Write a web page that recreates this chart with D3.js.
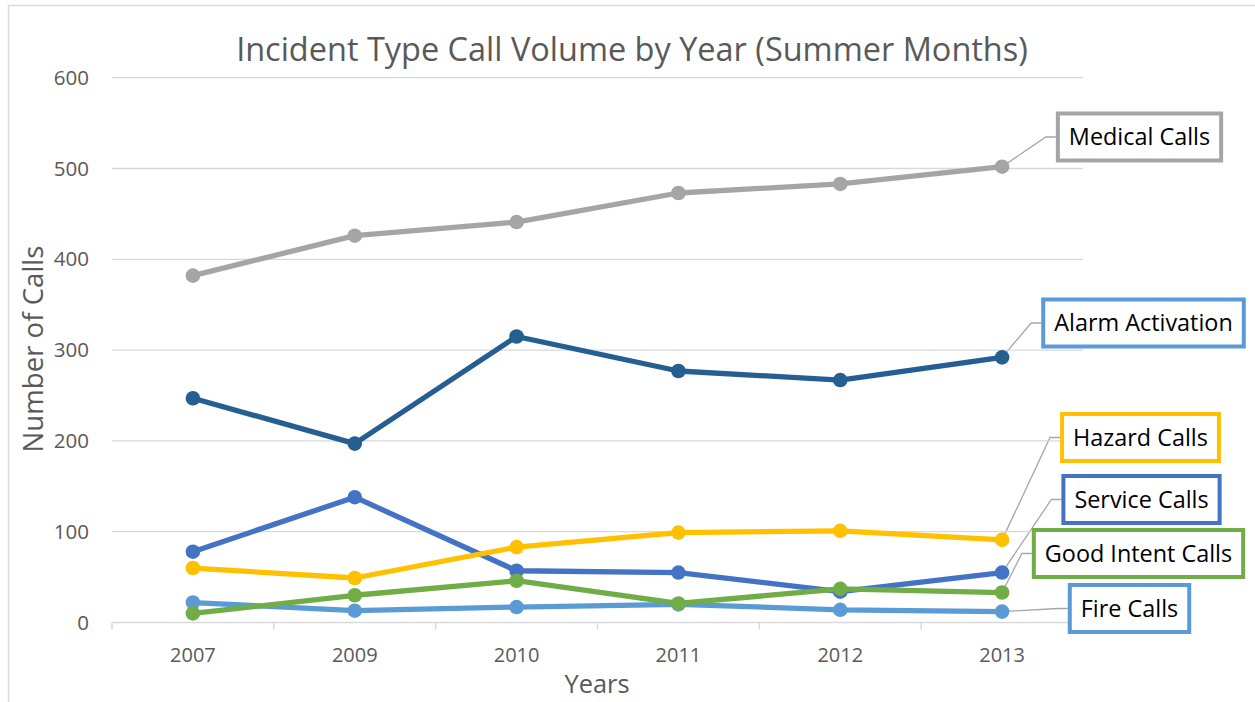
<!DOCTYPE html>
<html><head><meta charset="utf-8">
<script src="https://cdn.jsdelivr.net/npm/d3@7"></script>
<style>html,body{margin:0;padding:0;background:#fff;}svg{display:block;}</style>
</head><body>
<svg id="c" width="1255" height="702"></svg>
<script>
const years = ["2007","2009","2010","2011","2012","2013"];
const yTicks = [0,100,200,300,400,500,600];
const medical = [382,426,441,473,483,502];
const alarm = [247,197,315,277,267,292];
const hazard = [60,49,83,99,101,91];
const service = [78,138,57,55,34,55];
const goodIntent = [10,30,46,21,37,33];
const fire = [22,13,17,20,14,12];
const seriesNames = ["Medical Calls","Alarm Activation","Service Calls","Hazard Calls","Fire Calls","Good Intent Calls"];
const seriesValues = [medical, alarm, service, hazard, fire, goodIntent];

const colors = {"Medical Calls":"#A5A5A5","Alarm Activation":"#255E91","Service Calls":"#4472C4","Hazard Calls":"#FFC000","Fire Calls":"#5B9BD5","Good Intent Calls":"#70AD47"};
const boxBorder = {"Medical Calls":"#A5A5A5","Alarm Activation":"#5B9BD5","Service Calls":"#4472C4","Hazard Calls":"#FFC000","Fire Calls":"#5B9BD5","Good Intent Calls":"#70AD47"};
// label box layout (center positions)
const boxLayout = {"Medical Calls":[1139.5,137],"Alarm Activation":[1143.5,323],"Hazard Calls":[1140.5,437.5],"Service Calls":[1141.5,499.5],"Good Intent Calls":[1138.5,553.5],"Fire Calls":[1129.5,608.5]};

const svg = d3.select("#c");
const font = "'Open Sans', sans-serif";
svg.append("rect").attr("width",1255).attr("height",702).attr("fill","#fff");
svg.append("rect").attr("x",8.5).attr("y",5.5).attr("width",1300).attr("height",800)
  .attr("fill","none").attr("stroke","#D9D9D9").attr("stroke-width",1.5);

const L=112,R=1083,T=77.7,B=622.5;
const x = d3.scaleBand().domain(years).range([L,R]);
const y = d3.scaleLinear().domain([0,600]).range([B,T]);

function fit(sel, w){
  const n = sel.node(); const fs = parseFloat(sel.attr("font-size"));
  const cw = n.getComputedTextLength(); sel.attr("font-size", fs*w/cw);
}

// gridlines
svg.append("g").selectAll("line").data(yTicks.filter(d=>d>0)).join("line")
  .attr("x1",L).attr("x2",R).attr("y1",d=>y(d)).attr("y2",d=>y(d))
  .attr("stroke","#D9D9D9").attr("stroke-width",1.3);

// y axis labels
const ya = svg.append("g").attr("transform",`translate(${L},0)`)
  .call(d3.axisLeft(y).tickValues(yTicks).tickSize(0).tickPadding(23));
ya.select(".domain").remove();
ya.selectAll("text").attr("font-family",font).attr("font-size",20.5).attr("fill","#595959");

// x axis
const xa = svg.append("g").attr("transform",`translate(0,${B})`)
  .call(d3.axisBottom(x).tickSize(0).tickPadding(25));
xa.select(".domain").remove();
xa.selectAll("text").attr("font-family",font).attr("font-size",20).attr("fill","#595959");
svg.append("line").attr("x1",L).attr("x2",R).attr("y1",B).attr("y2",B).attr("stroke","#D9D9D9").attr("stroke-width",1.5);
const bounds = years.map(d=>x(d)).concat([R]);
svg.append("g").selectAll("line").data(bounds).join("line")
  .attr("x1",d=>d).attr("x2",d=>d).attr("y1",B).attr("y2",B+7)
  .attr("stroke","#D9D9D9").attr("stroke-width",1.5);

// titles
const title = svg.append("text").attr("x",632).attr("y",61).attr("text-anchor","middle")
  .attr("font-family",font).attr("font-size",30).attr("fill","#595959")
  .text("Incident Type Call Volume by Year (Summer Months)");
fit(title,792);
const yt = svg.append("text").attr("transform","translate(43,349) rotate(-90)").attr("text-anchor","middle")
  .attr("font-family",font).attr("font-size",26).attr("fill","#595959").text("Number of Calls");
fit(yt,207);
const xt = svg.append("text").attr("x",597).attr("y",693).attr("text-anchor","middle")
  .attr("font-family",font).attr("font-size",26).attr("fill","#595959").text("Years");
fit(xt,65);

// lines
const line = d3.line().x((d,i)=>x(years[i])+x.bandwidth()/2).y(d=>y(d));
seriesNames.forEach((name,k)=>{
  const vals = seriesValues[k];
  const g = svg.append("g");
  g.append("path").attr("d",line(vals)).attr("fill","none").attr("stroke",colors[name])
    .attr("stroke-width",5.3).attr("stroke-linejoin","round");
  g.selectAll("circle").data(vals).join("circle")
    .attr("cx",(d,i)=>x(years[i])+x.bandwidth()/2).attr("cy",d=>y(d)).attr("r",7.3)
    .attr("fill",colors[name]);
});

// data labels with leader lines
const lastX = x(years[years.length-1])+x.bandwidth()/2;
seriesNames.forEach((name,k)=>{
  const vals = seriesValues[k];
  const v = vals[vals.length-1];
  const [cx,cy] = boxLayout[name];
  const g = svg.append("g");
  const t = g.append("text").attr("x",cx).attr("y",cy).attr("dy","0.36em").attr("text-anchor","middle")
    .attr("font-family",font).attr("font-size",23.4).attr("fill","#000").text(name);
  const tw = t.node().getComputedTextLength();
  const bw = tw + 22, bh = 47;
  g.insert("rect","text").attr("x",cx-bw/2).attr("y",cy-bh/2).attr("width",bw).attr("height",bh)
    .attr("fill","#fff").attr("stroke",boxBorder[name]).attr("stroke-width",4);
  const bl = cx-bw/2-2;
  svg.insert("polyline","g").attr("points",`${lastX},${y(v)} ${bl-10},${cy} ${bl},${cy}`)
    .attr("fill","none").attr("stroke","#A6A6A6").attr("stroke-width",1.3);
});
</script>
</body></html>
